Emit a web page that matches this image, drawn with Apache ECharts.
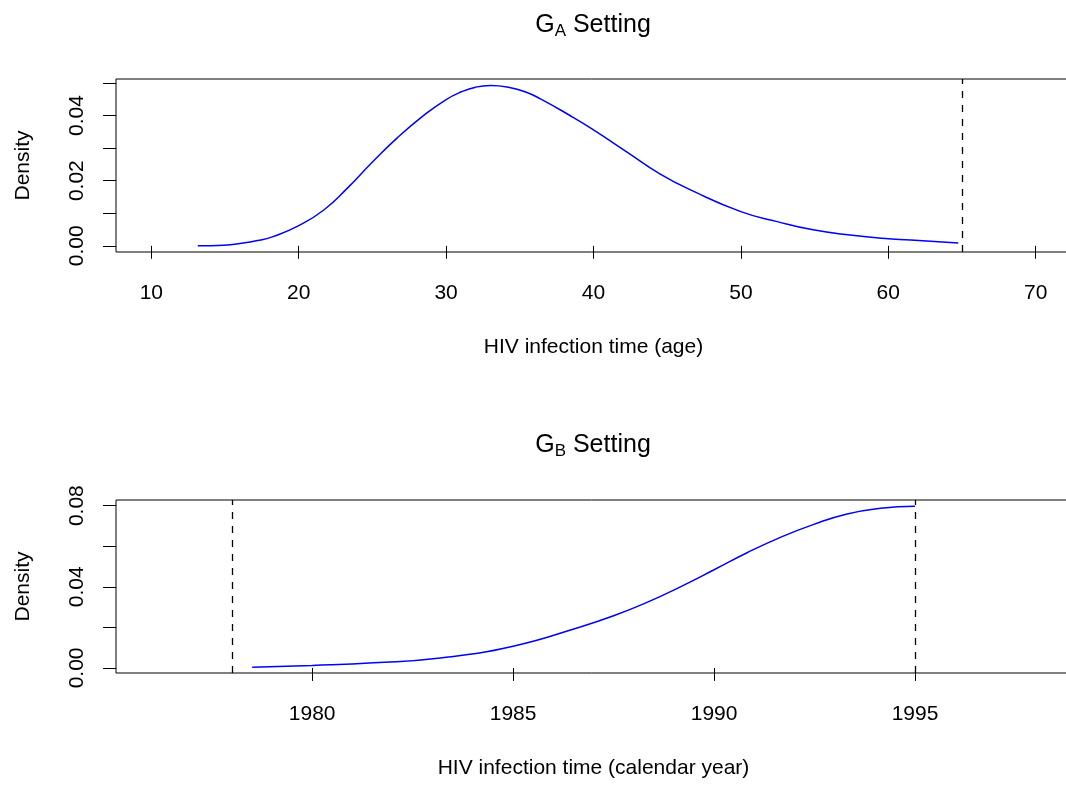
<!DOCTYPE html>
<html>
<head>
<meta charset="utf-8">
<script src="https://cdn.jsdelivr.net/npm/echarts@6/dist/echarts.min.js"></script>
<style>
    html, body { margin: 0; padding: 0; background: #fff; }
    #main { width: 1066px; height: 787px; }
</style>
</head>
<body>
<div id="main"></div>
<script>
    // G_A setting: density of HIV infection time by age
    const ageDensity = [
        [13.15, 0.0000], [14.9, 0.0002], [16.0, 0.0007], [17.2, 0.0016], [18.3, 0.0029],
        [20.0, 0.0062], [21.7, 0.0110], [23.3, 0.0177], [25.0, 0.0257], [26.7, 0.0332],
        [28.5, 0.0401], [30.0, 0.0449], [31.0, 0.0472], [32.0, 0.0487], [33.0, 0.0492],
        [34.3, 0.0486], [35.4, 0.0472], [36.4, 0.0451], [38.4, 0.0400], [40.0, 0.0356],
        [42.3, 0.0287], [44.5, 0.0221], [46.8, 0.0167], [50.0, 0.0105], [52.4, 0.0075],
        [54.9, 0.0049], [57.4, 0.0033], [60.0, 0.0022], [62.6, 0.0015], [64.75, 0.0009]
    ];
    const ageCutoff = [65];
    const ageTicks = [10, 20, 30, 40, 50, 60, 70];
    const ageDensityTicks = [0, 0.01, 0.02, 0.03, 0.04, 0.05];
    const ageDensityLabels = [0, 0.02, 0.04];

    // G_B setting: density of HIV infection time by calendar year
    const yearDensity = [
        [1978.51, 0.0003], [1980.0, 0.0012], [1981.53, 0.0025], [1983.19, 0.0049],
        [1985.0, 0.0107], [1986.67, 0.0202], [1987.5, 0.0257], [1988.33, 0.0323],
        [1989.16, 0.0400], [1990.0, 0.0484], [1990.82, 0.0568], [1991.65, 0.0644],
        [1992.48, 0.0708], [1993.31, 0.0759], [1994.14, 0.0787], [1995.0, 0.0797]
    ];
    const yearCutoffs = [1978, 1995];
    const yearTicks = [1980, 1985, 1990, 1995];
    const yearDensityTicks = [0, 0.02, 0.04, 0.06, 0.08];
    const yearDensityLabels = [0, 0.04, 0.08];

    const font = '"Liberation Sans", Arial, Helvetica, sans-serif';
    const textBase = {fontFamily: font, fontSize: 21, color: '#000'};

    function xAxisFor(gridIndex, min, max, ticks, name) {
        return {
            type: 'value', gridIndex: gridIndex, min: min, max: max,
            name: name, nameLocation: 'middle', nameGap: 85,
            nameTextStyle: textBase,
            axisLine: {show: false},
            axisTick: {show: true, inside: false, length: 13, customValues: ticks,
                lineStyle: {color: '#000', width: 1}},
            axisLabel: Object.assign({
                customValues: ticks, margin: 31,
                formatter: function (v) { return String(v); }
            }, textBase),
            splitLine: {show: false}
        };
    }

    function yAxisFor(gridIndex, min, max, ticks, labels) {
        return {
            type: 'value', gridIndex: gridIndex, min: min, max: max,
            name: 'Density', nameLocation: 'middle', nameGap: 82,
            nameTextStyle: textBase,
            axisLine: {show: false},
            axisTick: {show: true, inside: false, length: 13, customValues: ticks,
                lineStyle: {color: '#000', width: 1}},
            axisLabel: Object.assign({
                customValues: labels, rotate: 90, margin: 28,
                formatter: function (v) { return v.toFixed(2); }
            }, textBase),
            splitLine: {show: false}
        };
    }

    function titleFor(sub, top) {
        return {
            text: 'G{sub|' + sub + '} Setting',
            left: 593, top: top, padding: 0, textAlign: 'center',
            textStyle: {
                fontFamily: font, fontSize: 25, fontWeight: 'normal', color: '#000', lineHeight: 30,
                rich: {sub: {fontFamily: font, fontSize: 17, color: '#000', lineHeight: 12, verticalAlign: 'bottom'}}
            }
        };
    }

    function cutoffLines(values) {
        return {
            symbol: 'none', silent: true, animation: false,
            label: {show: false},
            lineStyle: {color: '#000', type: [7, 7], width: 1.3},
            data: values.map(function (v) { return {xAxis: v}; })
        };
    }

    function gridAt(top) {
        return {
            left: 116, top: top, width: 955, height: 173,
            outerBoundsMode: 'none', containLabel: false,
            show: true, borderColor: '#000', borderWidth: 1
        };
    }

    const myChart = echarts.init(document.getElementById('main'), null, {renderer: 'canvas'});
    myChart.setOption({
        animation: false,
        backgroundColor: '#fff',
        title: [titleFor('A', 10), titleFor('B', 430)],
        grid: [gridAt(79), gridAt(500)],
        xAxis: [
            xAxisFor(0, 7.6, 72.4, ageTicks, 'HIV infection time (age)'),
            xAxisFor(1, 1975.12, 1998.88, yearTicks, 'HIV infection time (calendar year)')
        ],
        yAxis: [
            yAxisFor(0, -0.0019, 0.0512, ageDensityTicks, ageDensityLabels),
            yAxisFor(1, -0.0025, 0.0828, yearDensityTicks, yearDensityLabels)
        ],
        series: [
            {
                name: 'G_A', type: 'line', xAxisIndex: 0, yAxisIndex: 0,
                data: ageDensity, showSymbol: false, smooth: 0.5, silent: true,
                lineStyle: {color: '#0000ff', width: 1.5},
                markLine: cutoffLines(ageCutoff)
            },
            {
                name: 'G_B', type: 'line', xAxisIndex: 1, yAxisIndex: 1,
                data: yearDensity, showSymbol: false, smooth: 0.5, silent: true,
                lineStyle: {color: '#0000ff', width: 1.5},
                markLine: cutoffLines(yearCutoffs)
            }
        ]
    });
</script>
</body>
</html>
